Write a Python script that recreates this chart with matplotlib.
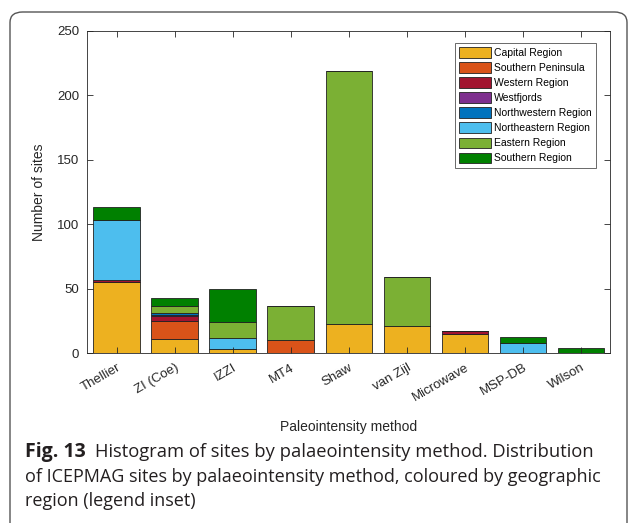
import matplotlib
matplotlib.use("Agg")
import matplotlib.pyplot as plt
import numpy as np
from matplotlib.patches import FancyBboxPatch

plt.rcParams['font.family'] = ['Liberation Sans', 'DejaVu Sans']

methods = ["Thellier", "ZI (Coe)", "IZZI", "MT4", "Shaw", "van Zijl", "Microwave", "MSP-DB", "Wilson"]
regions = ["Capital Region", "Southern Peninsula", "Western Region", "Westfjords",
           "Northwestern Region", "Northeastern Region", "Eastern Region", "Southern Region"]
capital      = [55, 11, 3, 0, 23, 21, 15, 0, 0]
southern_pen = [0, 14, 0, 10, 0, 0, 0, 0, 0]
western      = [2, 4, 0, 0, 0, 0, 2, 0, 0]
westfjords   = [0, 1, 0, 0, 0, 0, 0, 0, 0]
northwestern = [0, 1, 0, 0, 0, 0, 0, 0, 0]
northeastern = [46, 0, 9, 0, 0, 0, 0, 8, 0]
eastern      = [0, 6, 12, 27, 196, 38, 0, 0, 0]
southern     = [10, 6, 26, 0, 0, 0, 0, 5, 4]
series = [capital, southern_pen, western, westfjords, northwestern, northeastern, eastern, southern]
colors = ["#EDB120", "#D95319", "#A2142F", "#7E2F8E", "#0072BD", "#4DBEEE", "#7BB034", "#008000"]

W, H = 629, 523
fig = plt.figure(figsize=(W / 100, H / 100), dpi=100)

# rounded frame (bottom runs off the image)
frame = FancyBboxPatch((10 / W, 1 - 560 / H), 617 / W, 548 / H,
                       boxstyle="round,pad=0,rounding_size=0.02",
                       transform=fig.transFigure, fill=False, edgecolor="#555555", lw=1.0,
                       clip_on=False)
fig.patches.append(frame)

ax = fig.add_axes([87.5 / W, 1 - 353.3 / H, (610 - 87.5) / W, (353.3 - 30.7) / H])
x = np.arange(1, len(methods) + 1)
bottom = np.zeros(len(methods))
for vals, c, lab in zip(series, colors, regions):
    v = np.array(vals, dtype=float)
    ax.bar(x, v, width=0.8, bottom=bottom, color=c, edgecolor="#222222", linewidth=0.6, label=lab)
    bottom += v

ax.set_xlim(0.5, 9.5)
ax.set_ylim(0, 250)
ax.set_yticks([0, 50, 100, 150, 200, 250])
ax.set_xticks(x)
ax.set_xticklabels(methods, rotation=30, ha="right", rotation_mode="anchor", fontsize=9.5, color="#262626")
ax.tick_params(axis="both", direction="in", top=True, right=True, length=4, width=0.6, color="#262626")
ax.tick_params(axis="y", labelsize=9.5, labelcolor="#262626", pad=6)
ax.tick_params(axis="x", pad=6)
for s in ax.spines.values():
    s.set_color("#262626")
    s.set_linewidth(0.6)
ax.set_ylabel("Number of sites", fontsize=10, color="#262626", labelpad=8)
ax.set_xlabel("Paleointensity method", fontsize=10, color="#262626", labelpad=12)

leg = ax.legend(loc="upper right", bbox_to_anchor=(596 / W, 1 - 42.7 / H), bbox_transform=fig.transFigure,
                fontsize=7.5, frameon=True, fancybox=False, handlelength=3.0, handleheight=1.2,
                handletextpad=0.3, labelspacing=0.4, borderpad=0.45, borderaxespad=0)
leg.get_frame().set_edgecolor("#262626")
leg.get_frame().set_linewidth(0.6)

# caption
cap_fs = 13.2
y1 = 1 - 452 / H
fig.text(25 / W, y1, "Fig. 13", fontsize=14, fontweight="bold", family="Open Sans", va="center", color="#231f20")
fig.text(95 / W, y1, "Histogram of sites by palaeointensity method. Distribution", fontsize=cap_fs,
         family="Open Sans", va="center", color="#231f20")
fig.text(25 / W, 1 - 477 / H, "of ICEPMAG sites by palaeointensity method, coloured by geographic",
         fontsize=cap_fs * 0.985, family="Open Sans", va="center", color="#231f20")
fig.text(25 / W, 1 - 501 / H, "region (legend inset)", fontsize=cap_fs * 0.985, family="Open Sans", va="center", color="#231f20")

fig.savefig("out.png", dpi=100)
